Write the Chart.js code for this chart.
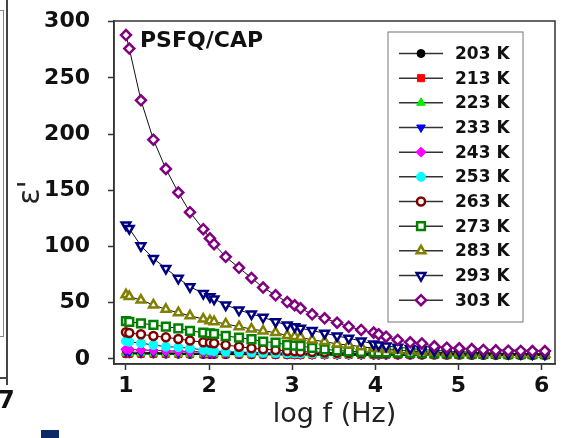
<!DOCTYPE html>
<html lang="en">
<head>
  <meta charset="UTF-8" />
  <title>PSFQ/CAP - dielectric constant vs log f</title>
  <style>
    html, body {
      margin: 0;
      padding: 0;
      background: #fff;
    }
    #wrap {
      position: relative;
      width: 563px;
      height: 438px;
      overflow: hidden;
    }
    .frag {
      position: absolute;
    }
  </style>
</head>
<body>
  <div id="wrap">
    <canvas id="epsChart" aria-label="Dielectric constant versus log frequency" role="img"></canvas>
    <!-- pieces of the neighbouring panel cut off at the left edge -->
    <div class="frag" style="left:0;top:10px;width:3px;height:325px;border-top:1px solid #888;border-right:1px solid #888;border-bottom:1px solid #888;"></div>
    <div class="frag" style="left:0;top:0;width:6px;height:377px;border-right:2px solid #444;border-bottom:2px solid #444;"></div>
    <div class="frag" style="left:6px;top:377px;width:2px;height:8px;background:#444;"></div>
    <div class="frag" style="left:-2px;top:386px;font:bold 24px 'DejaVu Sans';color:#111;">7</div>
    <div class="frag" style="left:41px;top:430px;width:18px;height:8px;background:#0d2a68;"></div>
  </div>

  <script src="https://cdn.jsdelivr.net/npm/chart.js"></script>
  <script>
    // log f (Hz) where every temperature was measured
    const logF = [1.00, 1.04, 1.18, 1.33, 1.48, 1.63, 1.77, 1.93, 2.01, 2.06,
                  2.20, 2.36, 2.51, 2.65, 2.80, 2.94, 3.03, 3.10, 3.24, 3.39,
                  3.54, 3.68, 3.83, 3.98, 4.04, 4.13, 4.27, 4.42, 4.56, 4.71,
                  4.86, 5.01, 5.16, 5.30, 5.45, 5.60, 5.75, 5.89, 6.04];

    const tempLabels = ['203 K', '213 K', '223 K', '233 K', '243 K', '253 K',
                        '263 K', '273 K', '283 K', '293 K', '303 K'];

    // epsilon'
    const eps203 = [4.5, 4.5, 4.4, 4.3, 4.2, 4.1, 4.0, 3.9, 3.9, 3.9, 3.8, 3.8, 3.7, 3.7, 3.6, 3.6, 3.6, 3.5, 3.5, 3.5,
                    3.4, 3.4, 3.4, 3.3, 3.3, 3.3, 3.3, 3.2, 3.2, 3.2, 3.2, 3.2, 3.1, 3.1, 3.1, 3.1, 3.1, 3.1, 3.1];
    const eps213 = [4.8, 4.8, 4.7, 4.6, 4.5, 4.4, 4.3, 4.2, 4.1, 4.1, 4.0, 4.0, 3.9, 3.9, 3.8, 3.8, 3.7, 3.7, 3.7, 3.6,
                    3.6, 3.6, 3.5, 3.5, 3.5, 3.5, 3.4, 3.4, 3.4, 3.4, 3.3, 3.3, 3.3, 3.3, 3.3, 3.2, 3.2, 3.2, 3.2];
    const eps223 = [5.2, 5.1, 5.0, 4.9, 4.8, 4.7, 4.6, 4.5, 4.4, 4.4, 4.3, 4.2, 4.1, 4.1, 4.0, 4.0, 3.9, 3.9, 3.8, 3.8,
                    3.7, 3.7, 3.7, 3.6, 3.6, 3.6, 3.5, 3.5, 3.5, 3.5, 3.4, 3.4, 3.4, 3.4, 3.4, 3.3, 3.3, 3.3, 3.3];
    const eps233 = [6.2, 6.1, 5.9, 5.7, 5.5, 5.3, 5.2, 5.0, 4.9, 4.9, 4.8, 4.7, 4.6, 4.5, 4.4, 4.3, 4.3, 4.2, 4.1, 4.1,
                    4.0, 4.0, 3.9, 3.9, 3.9, 3.8, 3.8, 3.8, 3.7, 3.7, 3.7, 3.6, 3.6, 3.6, 3.6, 3.5, 3.5, 3.5, 3.5];
    const eps243 = [8.6, 8.4, 8.0, 7.6, 7.2, 6.9, 6.6, 6.3, 6.1, 6.0, 5.8, 5.6, 5.4, 5.2, 5.1, 5.0, 4.9, 4.8, 4.7, 4.6,
                    4.5, 4.4, 4.3, 4.2, 4.2, 4.1, 4.1, 4.0, 4.0, 3.9, 3.9, 3.8, 3.8, 3.8, 3.7, 3.7, 3.7, 3.6, 3.6];
    const eps253 = [15.8, 15.2, 14.0, 12.4, 10.9, 10.4, 9.5, 8.0, 7.6, 7.1, 6.5, 6.1, 5.8, 5.5, 5.3, 5.1, 5.0, 4.9, 4.8, 4.7,
                    4.6, 4.5, 4.4, 4.3, 4.3, 4.2, 4.2, 4.1, 4.1, 4.0, 4.0, 3.9, 3.9, 3.9, 3.8, 3.8, 3.8, 3.7, 3.7];
    const eps263 = [23.7, 23.0, 21.9, 20.4, 19.2, 17.8, 16.3, 14.8, 14.5, 13.9, 12.4, 10.9, 9.5, 8.6, 8.0, 7.1, 6.8, 6.5, 6.1, 5.8,
                    5.5, 5.3, 5.1, 4.9, 4.8, 4.7, 4.6, 4.5, 4.4, 4.3, 4.2, 4.1, 4.0, 4.0, 3.9, 3.9, 3.8, 3.8, 3.8];
    const eps273 = [33.7, 33.0, 31.7, 30.2, 28.7, 27.2, 24.9, 23.4, 22.8, 22.2, 20.4, 18.9, 17.5, 15.4, 14.5, 12.4, 11.8, 11.5, 9.8, 8.5,
                    7.6, 6.8, 6.3, 6.0, 5.9, 5.8, 5.6, 5.4, 5.2, 5.0, 4.9, 4.8, 4.7, 4.6, 4.5, 4.4, 4.4, 4.3, 4.3];
    const eps283 = [57.0, 55.5, 52.4, 48.0, 44.1, 41.1, 38.4, 35.5, 34.0, 33.1, 31.1, 28.7, 26.6, 24.9, 23.4, 20.8, 20.0, 19.3, 16.9, 15.4,
                    13.3, 12.4, 10.9, 9.5, 9.0, 8.5, 7.7, 7.0, 6.5, 6.0, 5.6, 5.3, 5.0, 4.8, 4.6, 4.5, 4.4, 4.3, 4.2];
    const eps293 = [119, 116, 100.6, 89.4, 80.5, 71.7, 64.2, 58.3, 55.3, 53.3, 48.0, 43.5, 40.0, 37.0, 33.1, 30.2, 28.7, 27.3, 25.2, 22.9,
                    20.4, 18.4, 16.0, 13.3, 12.4, 11.5, 10.4, 9.3, 8.4, 7.6, 7.0, 6.5, 6.0, 5.6, 5.3, 5.0, 4.8, 4.6, 4.5];
    const eps303 = [288, 276, 230, 195, 169, 148, 130.5, 115.4, 107.2, 102, 90.8, 81.0, 72.0, 63.5, 56.6, 50.6, 47.7, 45.0, 39.7, 36.1,
                    32.2, 28.7, 25.8, 23.4, 21.9, 19.8, 16.9, 14.8, 13.8, 11.2, 10.0, 9.5, 8.8, 8.0, 7.6, 7.3, 7.1, 7.0, 7.0];

    const yTicks = [0, 50, 100, 150, 200, 250, 300];
    const xTicks = [1, 2, 3, 4, 5, 6];

    const series = [eps203, eps213, eps223, eps233, eps243, eps253, eps263, eps273, eps283, eps293, eps303];

    // marker look for each temperature
    const markerColor = ['#000000', '#ff0000', '#00ee00', '#0000ff', '#ff00ff', '#00ffff',
                         '#800000', '#008000', '#808000', '#000080', '#800080'];
    const markerShape = ['circle', 'rect', 'triangle', 'triangle', 'rectRot', 'circle',
                         'circle', 'rect', 'triangle', 'triangle', 'rectRot'];
    const markerTurn = [0, 0, 0, 180, 0, 0, 0, 0, 0, 180, 0];
    const markerHollow = [false, false, false, false, false, false, true, true, true, true, true];
    const markerSize = [4, 5, 5, 5, 5, 4.5, 4, 5.5, 5, 5, 5];

    const datasets = series.map((vals, i) => ({
      label: tempLabels[i],
      data: vals.map((v, j) => ({ x: logF[j], y: v })),
      borderColor: '#111',
      borderWidth: 1,
      pointStyle: markerShape[i],
      rotation: markerTurn[i],
      radius: markerSize[i],
      pointBackgroundColor: markerHollow[i] ? '#ffffff' : markerColor[i],
      pointBorderColor: markerColor[i],
      pointBorderWidth: markerHollow[i] ? 2.5 : 1,
      order: series.length - i,
      fill: false,
      tension: 0
    }));

    // box around the plot + sample label + legend box inside the plot
    const framePlugin = {
      id: 'framePlugin',
      afterDatasetsDraw(chart) {
        const { ctx, chartArea: a } = chart;
        ctx.save();
        ctx.strokeStyle = '#333';
        ctx.lineWidth = 1.5;
        ctx.strokeRect(a.left, a.top, a.right - a.left, a.bottom - a.top);

        ctx.fillStyle = '#111';
        ctx.font = 'bold 22px "DejaVu Sans"';
        ctx.textBaseline = 'middle';
        ctx.fillText('PSFQ/CAP', 140, 41);

        // legend
        const bx = 388, by = 32, bw = 135, bh = 290, step = 24.67;
        ctx.strokeStyle = '#777';
        ctx.lineWidth = 1;
        ctx.strokeRect(bx, by, bw, bh);
        chart.data.datasets.forEach((ds, i) => {
          const y = by + 21.5 + i * step;
          ctx.strokeStyle = '#333';
          ctx.lineWidth = 1.5;
          ctx.beginPath();
          ctx.moveTo(bx + 11, y);
          ctx.lineTo(bx + 55, y);
          ctx.stroke();
          ctx.fillStyle = ds.pointBackgroundColor;
          ctx.strokeStyle = ds.pointBorderColor;
          ctx.lineWidth = ds.pointBorderWidth;
          Chart.helpers.drawPoint(ctx, {
            pointStyle: ds.pointStyle,
            rotation: ds.rotation,
            radius: ds.radius,
            borderWidth: ds.pointBorderWidth
          }, bx + 33, y);
          ctx.fillStyle = '#111';
          ctx.font = 'bold 17px "DejaVu Sans"';
          ctx.textBaseline = 'middle';
          ctx.fillText(ds.label, bx + 67, y + 1);
        });
        ctx.restore();
      }
    };

    const ctx = document.getElementById('epsChart').getContext('2d');
    new Chart(ctx, {
      type: 'line',
      data: { datasets },
      options: {
        responsive: true,
        maintainAspectRatio: false,
        animation: false,
        layout: { padding: { left: 0, top: 21, right: 7, bottom: 0 } },
        plugins: {
          legend: { display: false },
          tooltip: { enabled: false }
        },
        scales: {
          x: {
            type: 'linear',
            min: 0.856,
            max: 6.162,
            afterBuildTicks: axis => { axis.ticks = xTicks.map(v => ({ value: v })); },
            afterFit: axis => {
              axis.height = 74;
              axis.paddingLeft = 0;
              axis.paddingRight = 0;
            },
            grid: { drawOnChartArea: false, tickLength: 6, tickColor: '#333', tickWidth: 1.5 },
            border: { color: '#333', width: 1.5 },
            ticks: {
              color: '#111',
              padding: 3,
              maxRotation: 0,
              autoSkip: false,
              font: { family: 'DejaVu Sans', size: 22, weight: 'bold' }
            },
            title: {
              display: true,
              text: 'log f (Hz)',
              color: '#222',
              font: { family: 'DejaVu Sans', size: 27 },
              padding: { top: 0, bottom: 7 }
            }
          },
          y: {
            min: -4.5,
            max: 300.5,
            afterBuildTicks: axis => { axis.ticks = yTicks.map(v => ({ value: v })); },
            afterFit: axis => {
              axis.width = 114;
              axis.paddingTop = 0;
              axis.paddingBottom = 0;
            },
            grid: { drawOnChartArea: false, tickLength: 6, tickColor: '#333', tickWidth: 1.5 },
            border: { color: '#333', width: 1.5 },
            ticks: {
              color: '#111',
              padding: 18,
              autoSkip: false,
              font: { family: 'DejaVu Sans', size: 22, weight: 'bold' }
            },
            title: {
              display: true,
              text: "ε'",
              color: '#222',
              font: { family: 'DejaVu Sans', size: 30, lineHeight: 1 },
              padding: { top: 16, bottom: 0 }
            }
          }
        }
      },
      plugins: [framePlugin]
    });
  </script>
</body>
</html>
